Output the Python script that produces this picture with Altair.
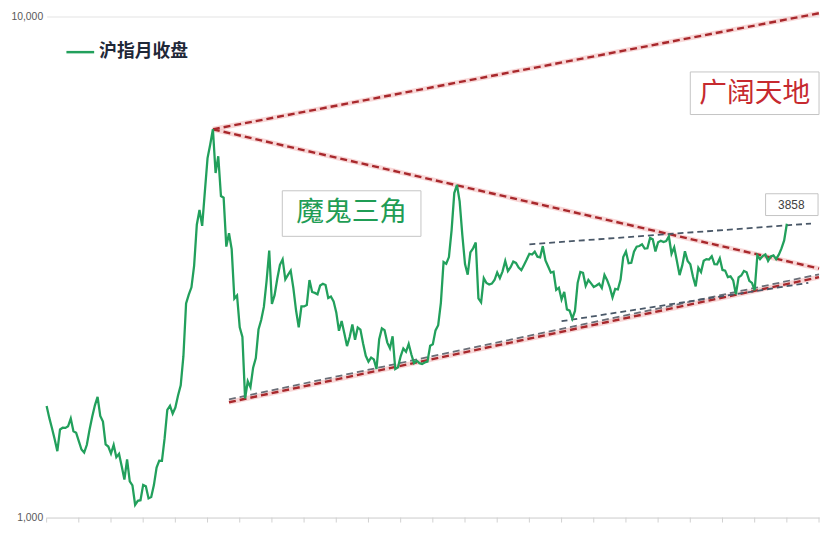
import altair as alt
import pandas as pd

# Shanghai Composite monthly close, Aug 2002 .. Aug 2025 (month index 0 = Aug 2002)
closes = [
    1670, 1581, 1508, 1433, 1357,
    1499, 1511, 1510, 1521, 1577, 1487, 1477, 1421, 1367, 1348, 1397, 1497,
    1590, 1675, 1741, 1595, 1555, 1400, 1386, 1342, 1396, 1320, 1340, 1266,
    1191, 1306, 1181, 1159, 1060, 1080, 1083, 1162, 1155, 1092, 1099, 1161,
    1258, 1299, 1298, 1440, 1641, 1672, 1612, 1658, 1752, 1837, 2099, 2675,
    2786, 2881, 3183, 3841, 4109, 3820, 4471, 5218, 5552, 5955, 4871, 5262,
    4383, 4348, 3473, 3693, 3433, 2736, 2775, 2397, 2293, 1729, 1871, 1821,
    1991, 2082, 2373, 2478, 2633, 2959, 3412, 2668, 2779, 2996, 3195, 3277,
    2989, 3051, 3110, 2870, 2592, 2398, 2638, 2639, 2656, 2979, 2820, 2808,
    2790, 2905, 2928, 2911, 2743, 2762, 2701, 2567, 2359, 2468, 2333, 2199,
    2292, 2428, 2263, 2396, 2373, 2225, 2103, 2047, 2086, 2069, 1980, 2269,
    2385, 2366, 2237, 2178, 2301, 1979, 1994, 2098, 2175, 2142, 2220, 2116,
    2033, 2056, 2033, 2026, 2039, 2048, 2202, 2217, 2364, 2420, 2683, 3235,
    3210, 3310, 3748, 4442, 4612, 4277, 3664, 3206, 3053, 3383, 3446, 3539,
    2738, 2688, 3004, 2938, 2917, 2930, 2979, 3085, 3005, 3100, 3250, 3104,
    3159, 3242, 3223, 3155, 3117, 3192, 3273, 3361, 3349, 3393, 3317, 3307,
    3481, 3259, 3169, 3082, 3095, 2847, 2876, 2725, 2821, 2603, 2588, 2494,
    2585, 2941, 3091, 3078, 2899, 2979, 2933, 2886, 2905, 2929, 2872, 3050,
    2977, 2880, 2750, 2860, 2852, 2985, 3310, 3396, 3218, 3225, 3392, 3473,
    3483, 3509, 3442, 3447, 3615, 3591, 3397, 3544, 3568, 3547, 3564, 3640,
    3361, 3462, 3252, 3047, 3186, 3399, 3253, 3202, 3024, 2893, 3151, 3089,
    3255, 3280, 3273, 3323, 3205, 3202, 3291, 3120, 3110, 3019, 3030, 2975,
    2789, 3015, 3041, 3105, 3087, 2967, 2939, 2842, 3336, 3280, 3326, 3352,
    3251, 3321, 3336, 3279, 3347, 3444, 3573, 3858,
]
months = list(range(len(closes)))

# yearly tick positions (month index)
tick_months = list(range(0, 289, 12))

# trend lines (month index, value)
red_names = ["A", "A", "B", "B", "C", "C"]
red_m = [62, 288, 62, 288, 68, 288]
red_v = [5955, 10150, 5955, 3140, 1699, 3018]

gray_names = ["C2", "C2"]
gray_m = [68, 288]
gray_v = [1722, 3058]

blue_names = ["U", "U", "L", "L"]
blue_m = [180, 285, 192, 284]
blue_v = [3510, 3861, 2465, 2941]

df = pd.DataFrame({"m": months, "close": closes})
ticks_df = pd.DataFrame({"m": tick_months})
red_df = pd.DataFrame({"line": red_names, "m": red_m, "close": red_v})
gray_df = pd.DataFrame({"line": gray_names, "m": gray_m, "close": gray_v})
blue_df = pd.DataFrame({"line": blue_names, "m": blue_m, "close": blue_v})
one = pd.DataFrame({"a": [0]})

FONT = "Liberation Sans"
CJK = "Noto Sans CJK SC"
H = 506

x_enc = alt.X("m:Q", scale=alt.Scale(domain=[0, 288], nice=False, zero=False),
              axis=alt.Axis(values=tick_months, labels=False, grid=False, ticks=False,
                            domainColor="#d9d9d9", title=None))
y_enc = alt.Y("close:Q", scale=alt.Scale(type="log", domain=[1000, 10000], nice=False),
              axis=alt.Axis(values=[1000, 10000], format=",", grid=True, gridColor="#e3e3e3",
                            domain=False, ticks=False, labelColor="#595959", labelFontSize=10.5,
                            labelFont=FONT, labelPadding=4, title=None))

price = alt.Chart(df).mark_line(color="#22a05c", strokeWidth=2.3).encode(x=x_enc, y=y_enc)

xticks = alt.Chart(ticks_df).mark_rule(color="#d0d0d0", strokeWidth=1).encode(
    x="m:Q", y=alt.value(H), y2=alt.value(H + 5))

red_glow = alt.Chart(red_df).mark_line(color="#f4bcbc", strokeWidth=5, opacity=0.6, clip=False).encode(
    x="m:Q", y="close:Q", detail="line:N")
red = alt.Chart(red_df).mark_line(color="#a8282c", strokeWidth=2.4, strokeDash=[7, 4], clip=False).encode(
    x="m:Q", y="close:Q", detail="line:N")
gray = alt.Chart(gray_df).mark_line(color="#6b6f78", strokeWidth=1.8, strokeDash=[7, 4]).encode(
    x="m:Q", y="close:Q", detail="line:N")
blue = alt.Chart(blue_df).mark_line(color="#4a5868", strokeWidth=1.8, strokeDash=[6, 4]).encode(
    x="m:Q", y="close:Q", detail="line:N")


def box(x1, y1, x2, y2):
    return alt.Chart(one).mark_rect(fill="white", stroke="#c4c4c4", strokeWidth=1).encode(
        x=alt.value(x1), x2=alt.value(x2), y=alt.value(y1), y2=alt.value(y2))


def label(txt, x, y, size, color, weight="normal", font=CJK, align="center"):
    return alt.Chart(one).mark_text(text=txt, fontSize=size, color=color, font=font,
                                    fontWeight=weight, align=align, baseline="middle").encode(
        x=alt.value(x), y=alt.value(y))


legend_line = alt.Chart(one).mark_rule(color="#22a05c", strokeWidth=2.5).encode(
    x=alt.value(20), x2=alt.value(48), y=alt.value(36))
legend_text = label("沪指月收盘", 53, 36, 18, "#1f2838", weight="bold", align="left")

box1 = box(650, 56, 780, 99)
txt1 = label("广阔天地", 715, 78, 28, "#c62a2f")
box2 = box(238, 176, 378, 222)
txt2 = label("魔鬼三角", 308, 199, 28, "#1f9d55")
box3 = box(726, 179, 779, 201)
txt3 = label("3858", 752, 190, 12, "#404040", font=FONT)

chart = alt.layer(
    red_glow, red, gray, blue, price, xticks,
    legend_line, legend_text, box1, txt1, box2, txt2, box3, txt3,
).properties(
    width=780, height=H,
    autosize=alt.AutoSizeParams(type="none"),
    padding={"left": 39, "top": 6, "right": 4, "bottom": 13},
    background="white",
).configure_view(stroke=None)

chart.save("out.html", embed_options={"renderer": "svg", "actions": False})
